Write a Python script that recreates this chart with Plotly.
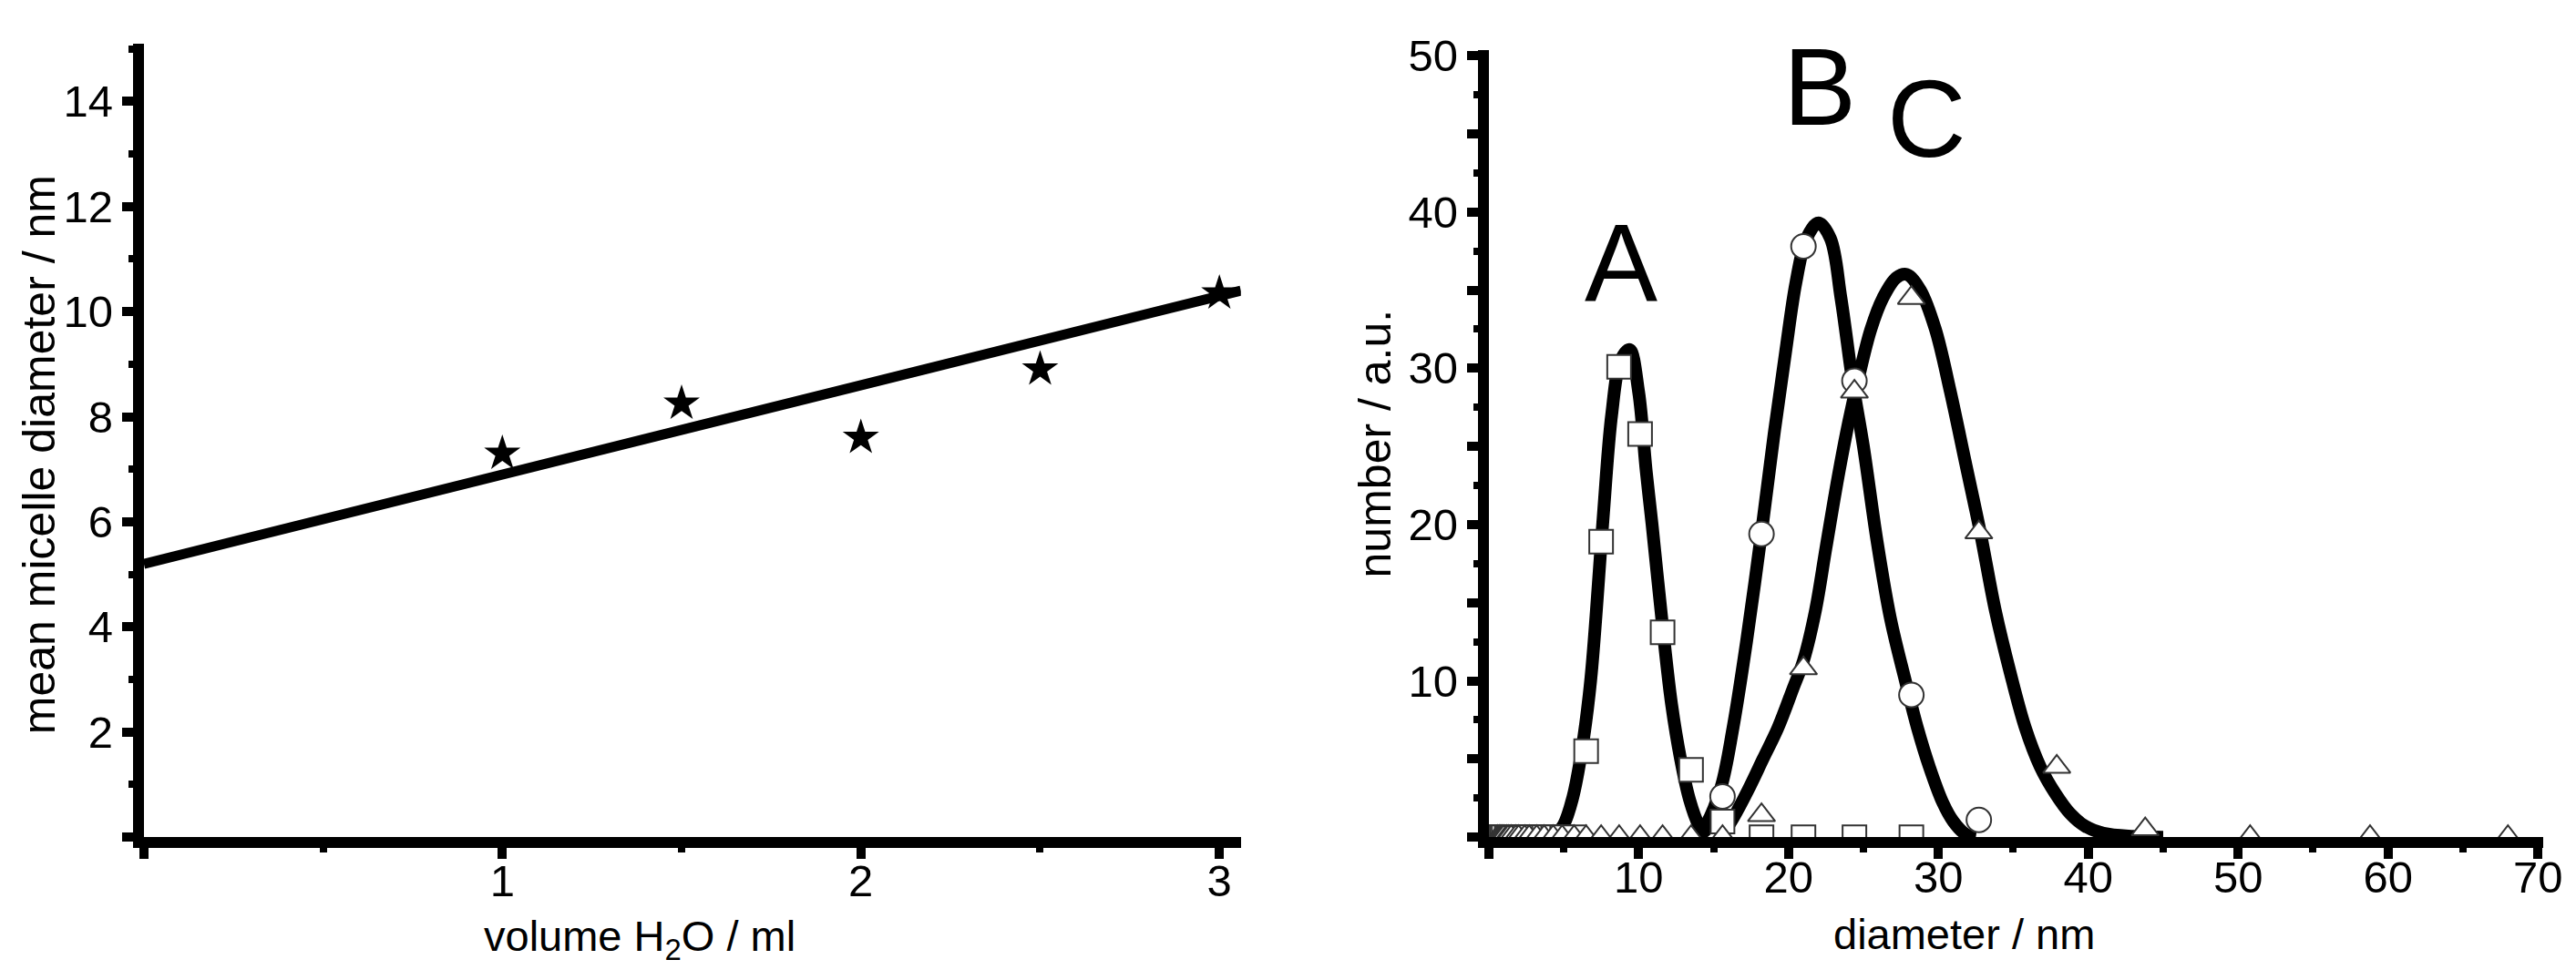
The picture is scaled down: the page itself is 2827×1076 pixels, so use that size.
import plotly.graph_objects as go

# ---------------- left panel data ----------------
volume_ml = [1.0, 1.5, 2.0, 2.5, 3.0]
mean_diam_nm = [7.3, 8.25, 7.6, 8.9, 10.35]
fit_x = [0.0, 3.06]
fit_y = [5.2, 10.4]
left_x_ticks = [0, 1, 2, 3]
left_x_ticktext = ["", "1", "2", "3"]
left_x_minor = [0.5, 1.5, 2.5]
left_y_ticks = [0, 2, 4, 6, 8, 10, 12, 14]
left_y_ticktext = ["", "2", "4", "6", "8", "10", "12", "14"]
left_y_minor = [1, 3, 5, 7, 9, 11, 13, 15]

# ---------------- right panel data ----------------
# size bins (nm)
bins = [0.6, 0.7, 0.8, 0.9, 1.0, 1.2, 1.3, 1.5, 1.8, 2.0, 2.4, 2.7, 3.2, 3.7,
        4.3, 4.9, 5.7, 6.5, 7.5, 8.7, 10.1, 11.6, 13.5, 15.6, 18.2, 21.0,
        24.4, 28.2, 32.7, 37.9, 43.8, 50.8, 58.8, 68.0]
pts_A = [0, 0, 0, 0, 0, 0, 0, 0, 0, 0, 0, 0, 0, 0,
         0, 0, 0, 5.5, 18.9, 30.1, 25.8, 13.1, 4.3, 1.0, 0, 0,
         0, 0, None, None, None, None, None, None]
pts_B = [None, None, None, None, None, None, None, None, None, None, None, None, None, None,
         None, None, None, None, None, None, None, None, None, 2.6, 19.4, 37.8,
         29.2, 9.1, 1.1, None, None, None, None, None]
pts_C = [0, 0, 0, 0, 0, 0, 0, 0, 0, 0, 0, 0, 0, 0,
         0, 0, 0, 0, 0, 0, 0, 0, 0, 0, 1.4, 10.8,
         28.5, 34.5, 19.5, 4.5, 0.5, 0, 0, 0]

# fitted distribution curves
curve_A_x = [4.3, 5.0, 5.6, 6.2, 6.8, 7.6, 8.2, 8.8, 9.4, 10.0, 10.5, 10.9,
             11.6, 12.2, 12.8, 13.4, 14.0, 14.6]
curve_A_y = [0, 0.8, 2.5, 5.5, 10, 20, 27, 30.5, 31.2, 28.5, 23.5, 20,
             13.5, 8.5, 5, 2.4, 0.8, 0]
curve_B_x = [13.8, 14.5, 15.5, 16.3, 17.2, 18.2, 19.0, 19.8, 20.5, 21.2, 22.0,
             22.8, 23.5, 24.3, 25.0, 25.9, 26.8, 27.8, 28.6, 29.4, 30.3, 31.0,
             31.8, 32.5]
curve_B_y = [0, 0.8, 3.2, 7, 12.5, 19.5, 25.5, 31, 35.5, 38.3, 39.3,
             38.3, 34.5, 29, 25, 19, 14, 10, 7, 4.5, 2.2, 1,
             0.2, 0]
curve_C_x = [15.5, 16.3, 17.3, 18.3, 19.3, 20.3, 21.0, 21.8, 22.5, 23.3, 24.0,
             24.7, 25.5, 26.3, 27.2, 27.9, 28.8, 29.8, 30.8, 31.8, 32.8, 33.8,
             34.8, 35.8, 36.8, 37.8, 38.8, 39.8, 41.0, 43.0, 45.0]
curve_C_y = [0, 1.2, 3, 5, 7, 9.5, 11.3, 14.5, 18.5, 23, 26.5,
             29.5, 32.5, 34.5, 35.8, 36, 35, 32.5, 28.5, 24, 19.5, 14.5,
             10.5, 7, 4.5, 2.8, 1.5, 0.7, 0.25, 0.05, 0]
right_x_ticks = [0, 10, 20, 30, 40, 50, 60, 70]
right_x_ticktext = ["", "10", "20", "30", "40", "50", "60", "70"]
right_x_minor = [5, 15, 25, 35, 45, 55, 65]
right_y_ticks = [0, 5, 10, 15, 20, 25, 30, 35, 40, 45, 50]
right_y_ticktext = ["", "", "10", "", "20", "", "30", "", "40", "", "50"]
right_y_minor = [2.5, 7.5, 12.5, 17.5, 22.5, 27.5, 32.5, 37.5, 42.5, 47.5]
peak_labels = ["A", "B", "C"]
peak_label_x = [8.8, 22.1, 29.2]
peak_label_y = [36.8, 48.0, 46.0]

FONT = "Liberation Sans, Arial, Helvetica, sans-serif"
W, H = 2827, 1076

fig = go.Figure()

# left panel
fig.add_trace(go.Scatter(x=fit_x, y=fit_y, mode="lines",
                         line=dict(color="black", width=11),
                         xaxis="x", yaxis="y", hoverinfo="skip"))
fig.add_trace(go.Scatter(x=volume_ml, y=mean_diam_nm, mode="markers",
                         marker=dict(symbol="star", size=30, color="black",
                                     line=dict(width=0)),
                         xaxis="x", yaxis="y"))

# right panel curves
for cx, cy in [(curve_A_x, curve_A_y), (curve_B_x, curve_B_y), (curve_C_x, curve_C_y)]:
    fig.add_trace(go.Scatter(x=cx, y=cy, mode="lines",
                             line=dict(color="black", width=14, shape="spline", smoothing=1.0),
                             xaxis="x2", yaxis="y2", hoverinfo="skip"))

mk_line = dict(color="#333333", width=2)
fig.add_trace(go.Scatter(x=bins, y=pts_A, mode="markers", name="A",
                         marker=dict(symbol="square", size=26, color="white", line=mk_line),
                         xaxis="x2", yaxis="y2"))
fig.add_trace(go.Scatter(x=bins, y=pts_B, mode="markers", name="B",
                         marker=dict(symbol="circle", size=27, color="white", line=mk_line),
                         xaxis="x2", yaxis="y2"))
fig.add_trace(go.Scatter(x=bins, y=pts_C, mode="markers", name="C",
                         marker=dict(symbol="triangle-up", size=26, color="white", line=mk_line),
                         xaxis="x2", yaxis="y2"))

tickfont = dict(family=FONT, size=49, color="black")
common = dict(showline=True, linecolor="black", linewidth=12, ticks="outside",
              ticklen=12, tickwidth=10, tickcolor="black", showgrid=False,
              zeroline=False, tickfont=tickfont, tickmode="array")
minor_common = dict(ticks="outside", ticklen=5, tickwidth=8, tickcolor="black", showgrid=False)

fig.update_layout(
    width=W, height=H,
    margin=dict(l=0, r=0, t=0, b=0),
    paper_bgcolor="white", plot_bgcolor="white",
    showlegend=False,
    font=dict(family=FONT, color="black"),
    xaxis=dict(domain=[159 / W, 1372 / W], range=[0, 3.06], anchor="y",
               tickvals=left_x_ticks, ticktext=left_x_ticktext,
               ticklabelstandoff=-18,
               minor=dict(tickvals=left_x_minor, **minor_common), **common),
    yaxis=dict(domain=[1 - 916 / H, 1 - 28 / H], range=[0, 15.09], anchor="x",
               tickvals=left_y_ticks, ticktext=left_y_ticktext,
               minor=dict(tickvals=left_y_minor, **minor_common), **common),
    xaxis2=dict(domain=[1646 / W, 2812 / W], range=[0, 70.36], anchor="y2",
                tickvals=right_x_ticks, ticktext=right_x_ticktext,
                ticklabelstandoff=-22, ticklabeloverflow="allow",
                minor=dict(tickvals=right_x_minor, **minor_common), **common),
    yaxis2=dict(domain=[1 - 916 / H, 1 - 35 / H], range=[0, 50.34], anchor="x2",
                tickvals=right_y_ticks, ticktext=right_y_ticktext,
                minor=dict(tickvals=right_y_minor, **minor_common), **common),
)

# axis titles
title_font_h = dict(family=FONT, size=47, color="black")
title_font_v = dict(family=FONT, size=50, color="black")
fig.add_annotation(text="volume H<sub>2</sub>O / ml", xref="paper", yref="paper",
                   x=707 / W, y=1 - 1030 / H, xanchor="center", yanchor="middle",
                   showarrow=False, font=title_font_h)
fig.add_annotation(text="mean micelle diameter / nm", xref="paper", yref="paper",
                   x=44 / W, y=1 - 488 / H, xanchor="center", yanchor="middle",
                   textangle=-90, showarrow=False, font=title_font_v)
fig.add_annotation(text="diameter / nm", xref="paper", yref="paper",
                   x=2172 / W, y=1 - 1025 / H, xanchor="center", yanchor="middle",
                   showarrow=False, font=title_font_h)
fig.add_annotation(text="number / a.u.", xref="paper", yref="paper",
                   x=1520 / W, y=1 - 475 / H, xanchor="center", yanchor="middle",
                   textangle=-90, showarrow=False, font=title_font_v)

# peak labels
for t, px, py in zip(peak_labels, peak_label_x, peak_label_y):
    fig.add_annotation(text=t, x=px, y=py, xref="x2", yref="y2",
                       xanchor="center", yanchor="middle", showarrow=False,
                       font=dict(family=FONT, size=120, color="black"))

fig.write_html("out.html", config={"displayModeBar": False},
               post_script="document.body.style.margin='0';document.body.style.overflow='hidden';")
